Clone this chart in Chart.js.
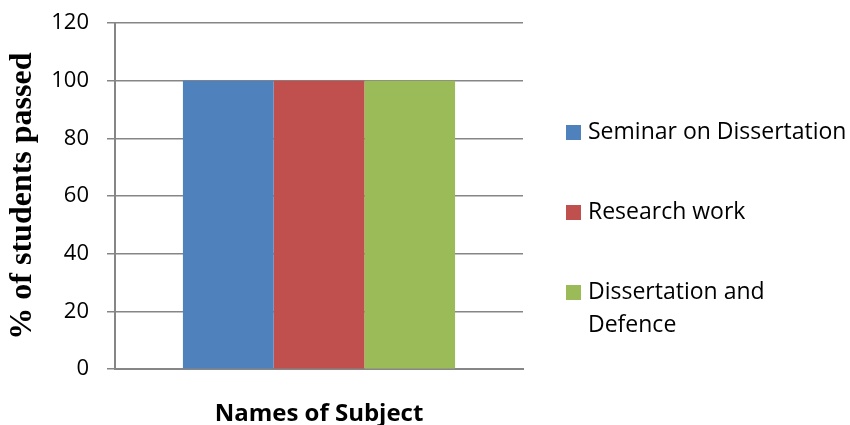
<!DOCTYPE html>
<html>
<head>
    <title>Students passed</title>
    <script src="https://cdn.jsdelivr.net/npm/chart.js"></script>
    <style>
        body { margin: 0; background: #fff; }
        #wrap { width: 850px; height: 425px; }
    </style>
</head>
<body>
<div id="wrap"><canvas id="passChart" width="850" height="425"></canvas></div>
<script>
    var categories = [''];
    var seriesNames = [['Seminar on Dissertation'], ['Research work'], ['Dissertation and', 'Defence']];
    var seminarValues = [100];
    var researchValues = [100];
    var defenceValues = [100];
    var yTicks = [0, 20, 40, 60, 80, 100, 120];

    var colors = ['#4F81BD', '#C0504D', '#9BBB59'];
    var tickFont = '"Open Sans", sans-serif';

    // legend with wrapped text, drawn on the right like the original
    var sideLegend = {
        id: 'sideLegend',
        afterDraw: function (chart) {
            var ctx = chart.ctx;
            var rows = [132, 212, 292];
            ctx.save();
            ctx.font = '23px ' + tickFont;
            ctx.textBaseline = 'middle';
            chart.data.datasets.forEach(function (ds, i) {
                ctx.fillStyle = ds.backgroundColor;
                ctx.fillRect(566, rows[i] - 7, 15, 15);
                ctx.fillStyle = '#000';
                seriesNames[i].forEach(function (line, j) {
                    ctx.fillText(line, 588, rows[i] + j * 33);
                });
            });
            ctx.restore();
        }
    };

    var ctx = document.getElementById('passChart').getContext('2d');
    new Chart(ctx, {
        type: 'bar',
        data: {
            labels: categories,
            datasets: [
                { label: seriesNames[0].join(' '), data: seminarValues, backgroundColor: colors[0] },
                { label: seriesNames[1].join(' '), data: researchValues, backgroundColor: colors[1] },
                { label: seriesNames[2].join(' '), data: defenceValues, backgroundColor: colors[2] }
            ]
        },
        options: {
            responsive: false,
            animation: false,
            layout: { padding: { left: 7, right: 327, top: 0, bottom: -4 } },
            plugins: {
                legend: { display: false },
                tooltip: { enabled: false }
            },
            datasets: { bar: { categoryPercentage: 0.667, barPercentage: 1 } },
            scales: {
                x: {
                    grid: { display: false },
                    border: { color: '#868686', width: 2 },
                    ticks: { display: false },
                    title: {
                        display: true,
                        text: 'Names of Subject',
                        color: '#000',
                        font: { family: tickFont, size: 24, weight: 'bold' },
                        padding: { top: 23, bottom: 0 }
                    }
                },
                y: {
                    min: 0,
                    max: 120,
                    afterBuildTicks: function (axis) {
                        axis.ticks = yTicks.map(function (v) { return { value: v }; });
                    },
                    afterFit: function (axis) {
                        axis.width = 108;
                        axis.paddingTop = 23;
                    },
                    grid: { color: '#868686', lineWidth: 1.5, tickLength: 8 },
                    border: { color: '#868686', width: 2 },
                    ticks: {
                        color: '#000',
                        padding: 18,
                        font: { family: tickFont, size: 22 }
                    },
                    title: {
                        display: true,
                        text: '% of students passed',
                        color: '#000',
                        font: { family: '"Liberation Serif", serif', size: 32, weight: 'bold', lineHeight: 1 },
                        padding: { top: 0, bottom: 0 }
                    }
                }
            }
        },
        plugins: [sideLegend]
    });
</script>
</body>
</html>
